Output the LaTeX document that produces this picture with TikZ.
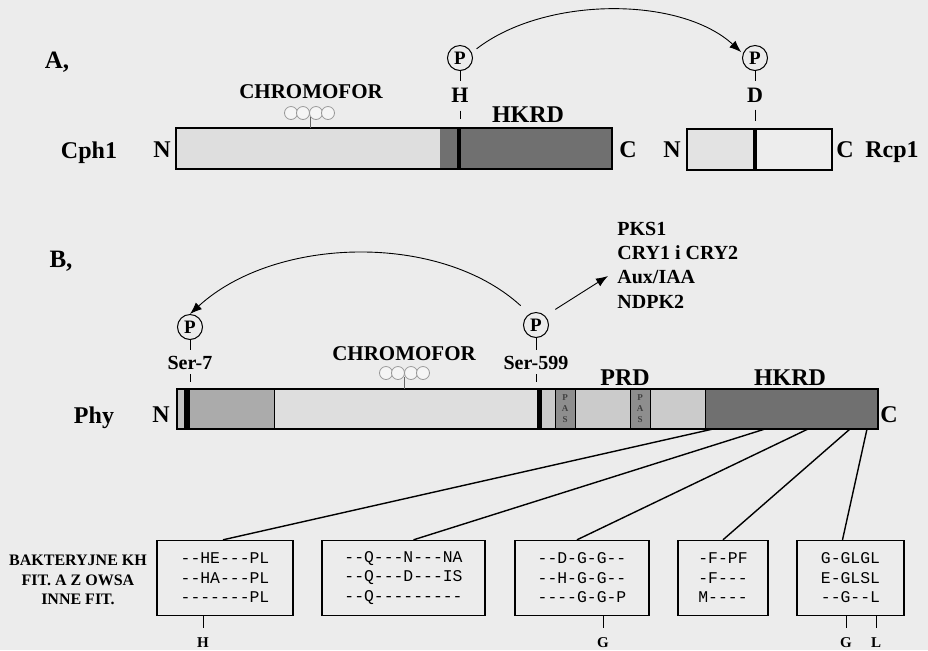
\documentclass[tikz,border=0pt]{standalone}
\usepackage{fontspec}
\setmainfont{Liberation Serif}
\newfontfamily\seqfont{Liberation Mono}
\usetikzlibrary{arrows.meta,positioning,calc}
\definecolor{pagegray}{HTML}{ECECEC}
\definecolor{chromolight}{HTML}{DEDEDE}
\definecolor{stripgray}{HTML}{C2C2C2}
\definecolor{midgray}{HTML}{ABABAB}
\definecolor{prdgray}{HTML}{CBCBCB}
\definecolor{pasgray}{HTML}{8E8E8E}
\definecolor{kinasedark}{HTML}{707070}

\begin{document}
\begin{tikzpicture}[x=0.5pt, y=-0.5pt,
  lbl/.style={font=\bfseries\fontsize{12}{14}\selectfont, inner sep=1pt, text depth=0pt},
  res/.style={font=\bfseries\fontsize{11}{13}\selectfont, inner sep=1pt, text depth=0pt},
  sitelbl/.style={font=\bfseries\fontsize{10}{12}\selectfont, inner sep=1pt, text depth=0pt},
  chromotxt/.style={font=\bfseries\fontsize{10.5}{12}\selectfont, inner sep=1pt, text depth=0pt},
  panel/.style={font=\bfseries\fontsize{12.5}{14}\selectfont, inner sep=1pt},
  partners/.style={font=\bfseries\fontsize{10}{12.2}\selectfont, align=left, inner sep=0pt, anchor=west},
  taxa/.style={font=\bfseries\fontsize{8}{9.75}\selectfont, align=center, inner sep=0pt},
  aa/.style={font=\bfseries\fontsize{7.5}{9}\selectfont, inner sep=0pt, text depth=0pt},
  paslbl/.style={font=\bfseries\fontsize{4.5}{5}\selectfont, inner sep=0pt, text=black!75},
  pcirc/.style={circle, draw, line width=0.5pt, minimum size=12.5pt, inner sep=0pt,
    font=\bfseries\fontsize{9.5}{10}\selectfont},
  chromo/.style={circle, draw=black!40, fill=black!4, line width=0.4pt, minimum size=6.5pt, inner sep=0pt},
  seqbox/.style={draw, line width=0.7pt, align=center, inner sep=0pt, minimum height=37.5pt,
    font=\seqfont\fontsize{8.2}{9.75}\selectfont},
  outline/.style={draw, line width=0.6pt},
  fan/.style={line width=0.7pt},
  tick/.style={line width=0.5pt},
  arc/.style={-{Latex[length=6pt,width=4.5pt]}, line width=0.45pt}
]
  \fill[pagegray] (0,0) rectangle (928,650);
  \useasboundingbox (0,0) rectangle (928,650);

  % A, Cph1 and Rcp1
  \node[panel] (panelA) at (57,62) {A,};
  \node[lbl] (cph) at (89,150) {Cph1};
  \node[lbl] (cphN) at (162,150) {N};
  \node[lbl] (cphC) at (628,150) {C};
  \fill[chromolight] (176,128) rectangle (440,169);
  \fill[kinasedark] (440,128) rectangle (612,169);
  \fill (457,128) rectangle (461,169);
  \draw[outline] (176,128) rectangle (612,169);
  \node[chromotxt] (chromA) at (311,92) {CHROMOFOR};
  \foreach \cx in {291,303,316,328}
    \node[chromo] (chA-\cx) at (\cx,113) {};
  \draw[black!60, line width=0.4pt] (310,117) -- (310,128);
  \node[lbl] (hkrdA) at (528,115) {HKRD};

  \node[lbl] (rcpN) at (672,150) {N};
  \node[lbl] (rcpC) at (845,150) {C};
  \node[lbl] (rcp) at (892,150) {Rcp1};
  \fill[black!11] (687,129) rectangle (755,170);
  \fill[black!7] (755,129) rectangle (832,170);
  \fill (753,129) rectangle (757,170);
  \draw[outline] (687,129) rectangle (832,170);

  \node[pcirc] (pH) at (460,58) {P};
  \node[res] (resH) at (460,95) {H};
  \draw[tick, shorten >=2pt] (pH) -- (resH);
  \draw[tick] ($(resH.south)+(0,6)$) -- ++(0,8);
  \node[pcirc] (pD) at (755,58) {P};
  \node[res] (resD) at (755,95) {D};
  \draw[tick, shorten >=2pt] (pD) -- (resD);
  \draw[tick] ($(resD.south)+(0,5)$) -- ++(0,11);
  \draw[arc, shorten <=3pt, shorten >=1pt] (pH.25) .. controls (545,-4) and (680,-4) .. (pD.160);

  % B, Phy
  \node[panel] (panelB) at (61,261) {B,};
  \node[lbl] (phy) at (94,415) {Phy};
  \node[lbl] (phyN) at (161,415) {N};
  \node[lbl] (phyC) at (889,415) {C};
  \foreach \xa/\xb/\col in {177/184/stripgray, 184/190/black, 190/274/midgray, 274/537/chromolight,
      537/542/black, 542/555/prdgray, 555/575/pasgray, 575/630/prdgray, 630/650/pasgray,
      650/705/prdgray, 705/878/kinasedark}
    \fill[\col] (\xa,389) rectangle (\xb,429);
  \foreach \xv in {274,555,575,630,650,705}
    \draw[line width=0.4pt] (\xv,389) -- (\xv,429);
  \draw[outline] (177,389) rectangle (878,429);
  \foreach \px in {565,640}
    \foreach \l/\py in {P/398,A/409,S/420}
      \node[paslbl] (pas-\px-\l) at (\px,\py) {\l};

  \node[chromotxt] (chromB) at (404,354) {CHROMOFOR};
  \foreach \cx in {386,398,411,423}
    \node[chromo] (chB-\cx) at (\cx,373) {};
  \draw[black!60, line width=0.4pt] (404,377) -- (404,389);
  \node[lbl] (prd) at (625,378) {PRD};
  \node[lbl] (hkrdB) at (790,378) {HKRD};

  \node[pcirc] (p7) at (190,327) {P};
  \node[sitelbl] (ser7) at (190,363) {Ser-7};
  \draw[tick, shorten >=2pt] (p7) -- (ser7);
  \draw[tick] ($(ser7.south)+(0,2)$) -- ++(0,8);
  \node[pcirc] (p599) at (536,325) {P};
  \node[sitelbl] (ser599) at (536,363) {Ser-599};
  \draw[tick, shorten >=2pt] (p599) -- (ser599);
  \draw[tick] ($(ser599.south)+(0,2)$) -- ++(0,8);

  \node[partners] (targets) at (617,265) {PKS1\\CRY1 i CRY2\\Aux/IAA\\NDPK2};
  \coordinate (tgt) at (608,276);
  \draw[arc, shorten <=6pt] (p599.120) .. controls (440,232) and (275,236) .. (p7.north);
  \draw[arc, shorten <=6pt] (p599.45) -- (tgt);

  % HKRD motifs
  \node[taxa] (taxa) at (78,580) {BAKTERYJNE KH\\FIT. A Z OWSA\\INNE FIT.};
  \node[seqbox, minimum width=68pt] (kh1) at (225,578) {-{}-HE-{}-{}-PL\\-{}-HA-{}-{}-PL\\-{}-{}-{}-{}-{}-{}-PL};
  \node[seqbox, minimum width=81.5pt] (kh2) at (403.5,578) {-{}-Q-{}-{}-N-{}-{}-NA\\-{}-Q-{}-{}-D-{}-{}-IS\\-{}-Q-{}-{}-{}-{}-{}-{}-{}-{}-};
  \node[seqbox, minimum width=67pt] (kh3) at (582,578) {-{}-D-G-G-{}-\\-{}-H-G-G-{}-\\-{}-{}-{}-G-G-P};
  \node[seqbox, minimum width=45pt] (kh4) at (723,578) {-F-PF\\-F-{}-{}-\\M-{}-{}-{}-};
  \node[seqbox, minimum width=53.5pt] (kh5) at (850.5,578) {G-GLGL\\E-GLSL\\-{}-G-{}-L};

  \coordinate (f1) at (713,429);
  \coordinate (f2) at (765,429);
  \coordinate (f3) at (808,429);
  \coordinate (f4) at (850,429);
  \coordinate (f5) at (867,429);
  \draw[fan] (f1) -- ([xshift=-1pt]kh1.north);
  \draw[fan] (f2) -- ([xshift=5pt]kh2.north);
  \draw[fan] (f3) -- ([xshift=-2.5pt]kh3.north);
  \draw[fan] (f4) -- (kh4.north);
  \draw[fan] (f5) -- ([xshift=-4pt]kh5.north);

  \node[aa] (aaH) at (203,643) {H};
  \node[aa] (aaG) at (603,643) {G};
  \node[aa] (aaG2) at (846,643) {G};
  \node[aa] (aaL) at (876,643) {L};
  \draw[tick] (kh1.south -| aaH) -- ++(0,12);
  \draw[tick] (kh3.south -| aaG) -- ++(0,12);
  \draw[tick] (kh5.south -| aaG2) -- ++(0,12);
  \draw[tick] (kh5.south -| aaL) -- ++(0,12);
\end{tikzpicture}
\end{document}
